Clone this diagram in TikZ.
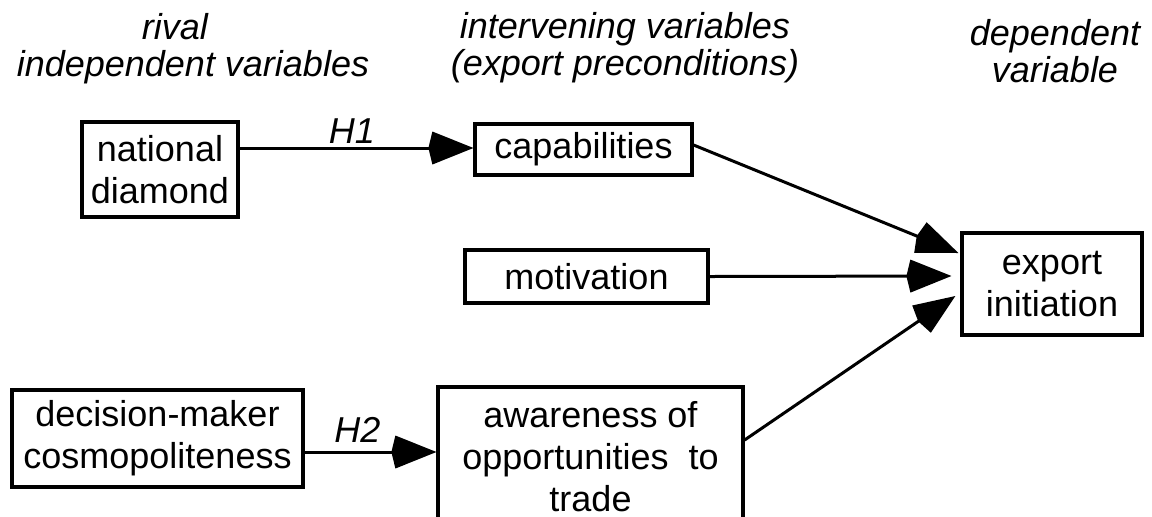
\documentclass[tikz,border=0pt]{standalone}
\usepackage{fontspec}
\setmainfont{Liberation Sans}
\usetikzlibrary{arrows.meta}
\tikzset{
  box/.style={draw, line width=1.6pt, align=center, inner sep=0pt, font=\fontsize{18}{21}\selectfont},
  hdr/.style={align=center, inner sep=0pt, anchor=base, font=\fontsize{18}{18.5}\selectfont\itshape},
  lbl/.style={inner sep=0pt, anchor=south, font=\fontsize{18}{21}\selectfont\itshape},
  arr/.style={line width=1.5pt, -{Kite[length=22.5pt,width=16.5pt,inset=2pt]}},
  link/.style={line width=1.5pt}
}
\begin{document}
\begin{tikzpicture}[x=0.5pt,y=-0.5pt]
\fill[white] (0,0) rectangle (1152,516);
\clip (0,0) rectangle (1152,516);
% headers
\node[hdr] (h1) at (193,76) {rival\hspace*{18pt}\\independent variables};
\node[hdr] (h2) at (625,75) {intervening variables\\(export preconditions)};
\node[hdr] (h3) at (1055,82) {dependent\\variable};
% boxes
\node[box, minimum width=78pt, minimum height=47.5pt] (nat) at (160,169.5) {national\\diamond};
\node[box, minimum width=108.5pt, minimum height=25.5pt] (cap) at (583.5,149.5) {capabilities};
\node[box, minimum width=121.5pt, minimum height=26.5pt] (mot) at (586.5,276.5) {motivation};
\node[box, minimum width=90pt, minimum height=51pt] (exp) at (1052,284) {export\\initiation};
\node[box, minimum width=145.5pt, minimum height=48.5pt] (dec) at (157.5,438.5) {decision-maker\\cosmopoliteness};
\node[box, minimum width=152.5pt, minimum height=69.5pt] (aw) at (590.5,456.5) {awareness of\\opportunities\ \ to\\trade};
% connectors
\coordinate (h1s) at ([shift={(0,-1.5)}]nat.east |- cap.west);
\coordinate (h2s) at ([shift={(0,13.5)}]dec.east);
\draw[arr] (h1s) -- node[lbl, pos=0.48, above=1.5pt] (lh1) {H1} (h1s -| cap.west);
\draw[arr] (h2s) -- node[lbl, pos=0.4, above=4pt] (lh2) {H2} (h2s -| aw.west);
\draw[arr] ([shift={(0,-4.5)}]cap.east) -- ([shift={(-2,-31)}]exp.west);
\draw[arr] (mot.east) -- ([shift={(-9,-8)}]exp.west);
\draw[arr] ([shift={(0,-16.5)}]aw.east) -- ([shift={(-5,12)}]exp.west);
\end{tikzpicture}
\end{document}
